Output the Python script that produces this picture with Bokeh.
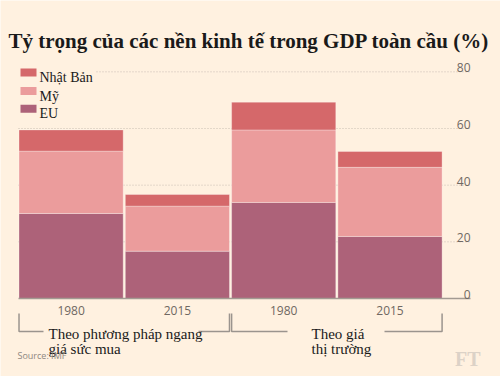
from bokeh.plotting import figure
from bokeh.models import ColumnDataSource, Range1d, Label
from bokeh.core.properties import value
from bokeh.embed import file_html
from bokeh.resources import INLINE

# ---------------- data ----------------
bar_labels = ["1980", "2015", "1980", "2015"]
eu = [30.0, 16.7, 33.9, 21.9]
my = [22.0, 15.9, 25.6, 24.4]
nhat_ban = [7.5, 4.1, 9.8, 5.6]
series_names = ["EU", "Mỹ", "Nhật Bản"]
y_ticks = [0, 20, 40, 60, 80]
y_tick_labels = ["0", "20", "40", "60", "80"]
group_lines = [["Theo phương pháp ngang", "giá sức mua"], ["Theo giá", "thị trường"]]
group_spans = [(0, 1), (2, 3)]
title_text = "Tỷ trọng của các nền kinh tế trong GDP toàn cầu (%)"
source_text = "Source: IMF"
logo_text = "FT"

# ---------------- layout / style ----------------
BG = "#fff1e0"
EU_C = "#ad6279"
MY_C = "#eb9c9c"
JP_C = "#d5686a"
series_colors = [EU_C, MY_C, JP_C]
TICK_C = "#6f6862"
INK = "#1a1a1a"

W, H = 500, 376
PAGE = 0
PX_X = 106.3
PX_Y = 2.8333
BAR0_PAGE_X = 70.6
ZERO_PAGE_Y = 298

x_start = -(BAR0_PAGE_X - PAGE) / PX_X
x_end = x_start + W / PX_X
y_start = -(H - (ZERO_PAGE_Y - PAGE)) / PX_Y
y_end = y_start + H / PX_Y


def dx(page_x):
    return x_start + (page_x - PAGE) / PX_X


def dy(page_y):
    return y_start + (H - (page_y - PAGE)) / PX_Y


def sx(page_x):
    return page_x - PAGE


def sy(page_y):
    return H - (page_y - PAGE)


p = figure(width=W, height=H, x_range=Range1d(x_start, x_end), y_range=Range1d(y_start, y_end),
           output_backend="svg", toolbar_location=None, x_axis_type=None, y_axis_type=None,
           min_border=0, min_border_left=0, min_border_right=0, min_border_top=0, min_border_bottom=0,
           background_fill_color=BG, border_fill_color=BG, outline_line_color=None)

# gridlines
grid_ticks = [t for t in y_ticks if t != 0]
p.segment(x0=[dx(18)] * len(grid_ticks), y0=grid_ticks, x1=[dx(470)] * len(grid_ticks), y1=grid_ticks,
          line_color="#c9beb3", line_width=1, line_dash="1 2")

# stacked bars
source = ColumnDataSource(dict(x=list(range(len(bar_labels))), eu=eu, my=my, jp=nhat_ban))
rs = p.vbar_stack(["eu", "my", "jp"], x="x", width=0.98, color=series_colors, source=source,
                  line_color="white", line_alpha=0.3, line_width=1)

# baseline
p.segment(x0=[dx(18)], y0=[0], x1=[dx(470)], y1=[0], line_color="#a39a92", line_width=1.5)

# y tick labels
p.text(x=[dx(470)] * len(y_ticks), y=y_ticks, text=y_tick_labels, text_align="right",
       text_baseline="alphabetic", y_offset=-4, text_font=value("Open Sans"),
       text_font_size="12px", text_color=TICK_C)

# x labels
p.text(x=list(range(len(bar_labels))), y=[0] * len(bar_labels), text=bar_labels, text_align="center",
       text_baseline="middle", y_offset=12, text_font=value("Open Sans"),
       text_font_size="12px", text_color=TICK_C)

# brackets
gaps = [(43, 198), (287, 384)]
xs, ys = [], []
top_y, bot_y = dy(313), dy(331)
for (a, b), (g0, g1) in zip(group_spans, gaps):
    left = a - 0.49
    right = b + 0.49
    xs.append([left, left, dx(g0)])
    ys.append([top_y, bot_y, bot_y])
    xs.append([dx(g1), right, right])
    ys.append([bot_y, bot_y, top_y])
p.multi_line(xs=xs, ys=ys, line_color="#9b948e", line_width=1.5)

# group labels
label_x = [48, 311]
for lines, lx in zip(group_lines, label_x):
    for i, line in enumerate(lines):
        p.add_layout(Label(x=sx(lx), y=sy(333 + 15 * i), x_units="screen", y_units="screen", text=line,
                           text_font="Liberation Serif", text_font_size="15px", text_color=INK,
                           text_baseline="alphabetic"))

# legend (manual): top-to-bottom Nhật Bản, Mỹ, EU
leg_names = series_names[::-1]
leg_colors = series_colors[::-1]
leg_rows = [72, 90.5, 108.3]
leg_y = [dy(r) for r in leg_rows]
p.rect(x=[dx(56)], y=[dy(72)], width=[78], height=[16], width_units="screen", height_units="screen",
       fill_color=BG, line_color=None)
p.rect(x=[dx(28)] * 3, y=leg_y, width=16, height=8, width_units="screen", height_units="screen",
       fill_color=leg_colors, line_color=None)
for name, row in zip(leg_names, leg_rows):
    p.add_layout(Label(x=sx(39), y=sy(row + 5), x_units="screen", y_units="screen", text=name,
                       text_font="Liberation Serif", text_font_size="14px", text_color=INK,
                       text_baseline="alphabetic"))

# title, source, logo
p.add_layout(Label(x=sx(8), y=sy(40), x_units="screen", y_units="screen", text=title_text,
                   text_font="Liberation Serif", text_font_style="bold", text_font_size="21px",
                   text_color=INK, text_baseline="alphabetic"))
p.add_layout(Label(x=sx(17), y=sy(355), x_units="screen", y_units="screen", text=source_text,
                   text_font="Open Sans", text_font_size="9px", text_color="#8e8780",
                   text_baseline="middle"))
p.add_layout(Label(x=sx(480), y=sy(358), x_units="screen", y_units="screen", text=logo_text,
                   text_font="Liberation Serif", text_font_style="bold", text_font_size="20px",
                   text_color="#dcd2c7", text_align="right", text_baseline="alphabetic"))

html = file_html(p, INLINE)
html = html.replace("<body>", '<body style="background-color:#fff1e0;">', 1)
open("out.html", "w").write(html)
